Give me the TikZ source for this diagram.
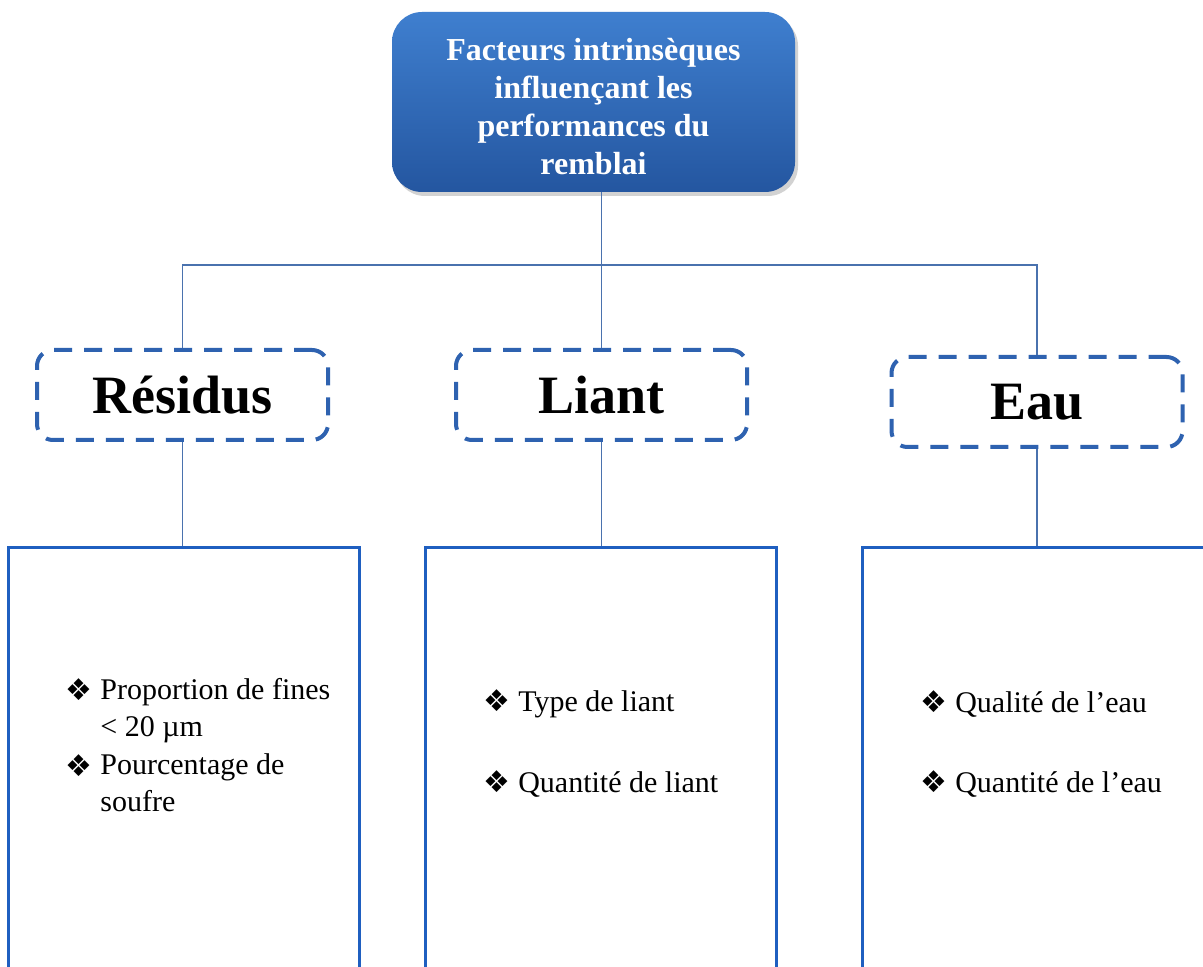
\documentclass[tikz,border=0pt]{standalone}
\usepackage{fontspec}
\setmainfont{Liberation Serif}
\newfontfamily\symfont{DejaVu Sans}
\usetikzlibrary{positioning,shadows}

\definecolor{topblue}{HTML}{3F7FCF}
\definecolor{botblue}{HTML}{2456A0}
\definecolor{dashblue}{HTML}{2E62B0}
\definecolor{boxblue}{HTML}{1F5FC0}
\definecolor{linkblue}{HTML}{4A72AE}

\newcommand{\puce}{{\symfont ❖}\hspace{4pt}}

\begin{document}
\begin{tikzpicture}[
      x=0.5pt, y=-0.5pt,
      titlebox/.style={
         rectangle,
         rounded corners=15pt,
         top color=topblue,
         bottom color=botblue,
         draw=none,
         drop shadow={opacity=0.35, shadow xshift=1.5pt, shadow yshift=-2pt},
         minimum width=201.5pt,
         minimum height=90pt,
         align=center,
         text=white,
         font=\fontsize{16}{19}\selectfont\bfseries},
      catbox/.style={
         rectangle,
         rounded corners=8pt,
         draw=dashblue,
         line width=2pt,
         dash pattern=on 9pt off 6pt,
         minimum width=145.5pt,
         minimum height=45pt,
         font=\fontsize{27}{30}\selectfont\bfseries},
      listbox/.style={
         rectangle,
         draw=boxblue,
         line width=1.5pt,
         minimum width=175.5pt,
         minimum height=220pt,
         anchor=north},
      item/.style={
         anchor=west,
         inner sep=0pt,
         align=left,
         font=\fontsize{15}{18.5}\selectfont},
      link/.style={draw=linkblue, line width=0.75pt}
      ]
      \clip (0,0) rectangle (1203,967);
      \fill[white] (0,0) rectangle (1203,967);

      % title
      \node[titlebox] (top) at (593.5,102) {\rule{0pt}{16pt}Facteurs intrinsèques\\influençant les\\performances du\\remblai};

      % categories
      \node[catbox] (res) at (182.5,395) {Résidus};
      \node[catbox] (lia) at (601.5,395) {Liant};
      \node[catbox] (eau) at (1037,402) {Eau};

      % lists
      \node[listbox] (resbox) at (184,546) {};
      \node[listbox] (liabox) at (600.5,546) {};
      \node[listbox] (eaubox) at (1037.5,546) {};

      \node[item] (res1) at (65,690) {\puce};
      \node[item, anchor=north west] (res1t) at (100,678) {Proportion de fines\\< 20 µm};
      \node[item] (res2) at (65,766) {\puce};
      \node[item, anchor=north west] (res2t) at (100,753) {Pourcentage de\\soufre};
      \node[item] (lia1) at (483,704) {\puce Type de liant};
      \node[item] (lia2) at (483,784) {\puce Quantité de liant};
      \node[item] (eau1) at (920,704) {\puce Qualité de l’eau};
      \node[item] (eau2) at (920,784) {\puce Quantité de l’eau};

      % connectors
      \coordinate (bus) at (600,265);
      \draw[link] (top.south -| lia.north) -- (lia.north);
      \draw[link] (res.north) -- (res.north |- bus) -- (eau.north |- bus) -- (eau.north);
      \foreach \i/\j in {res/resbox, lia/liabox, eau/eaubox}
         \draw[link] (\i.south) -- (\i.south |- \j.north);
\end{tikzpicture}
\end{document}
